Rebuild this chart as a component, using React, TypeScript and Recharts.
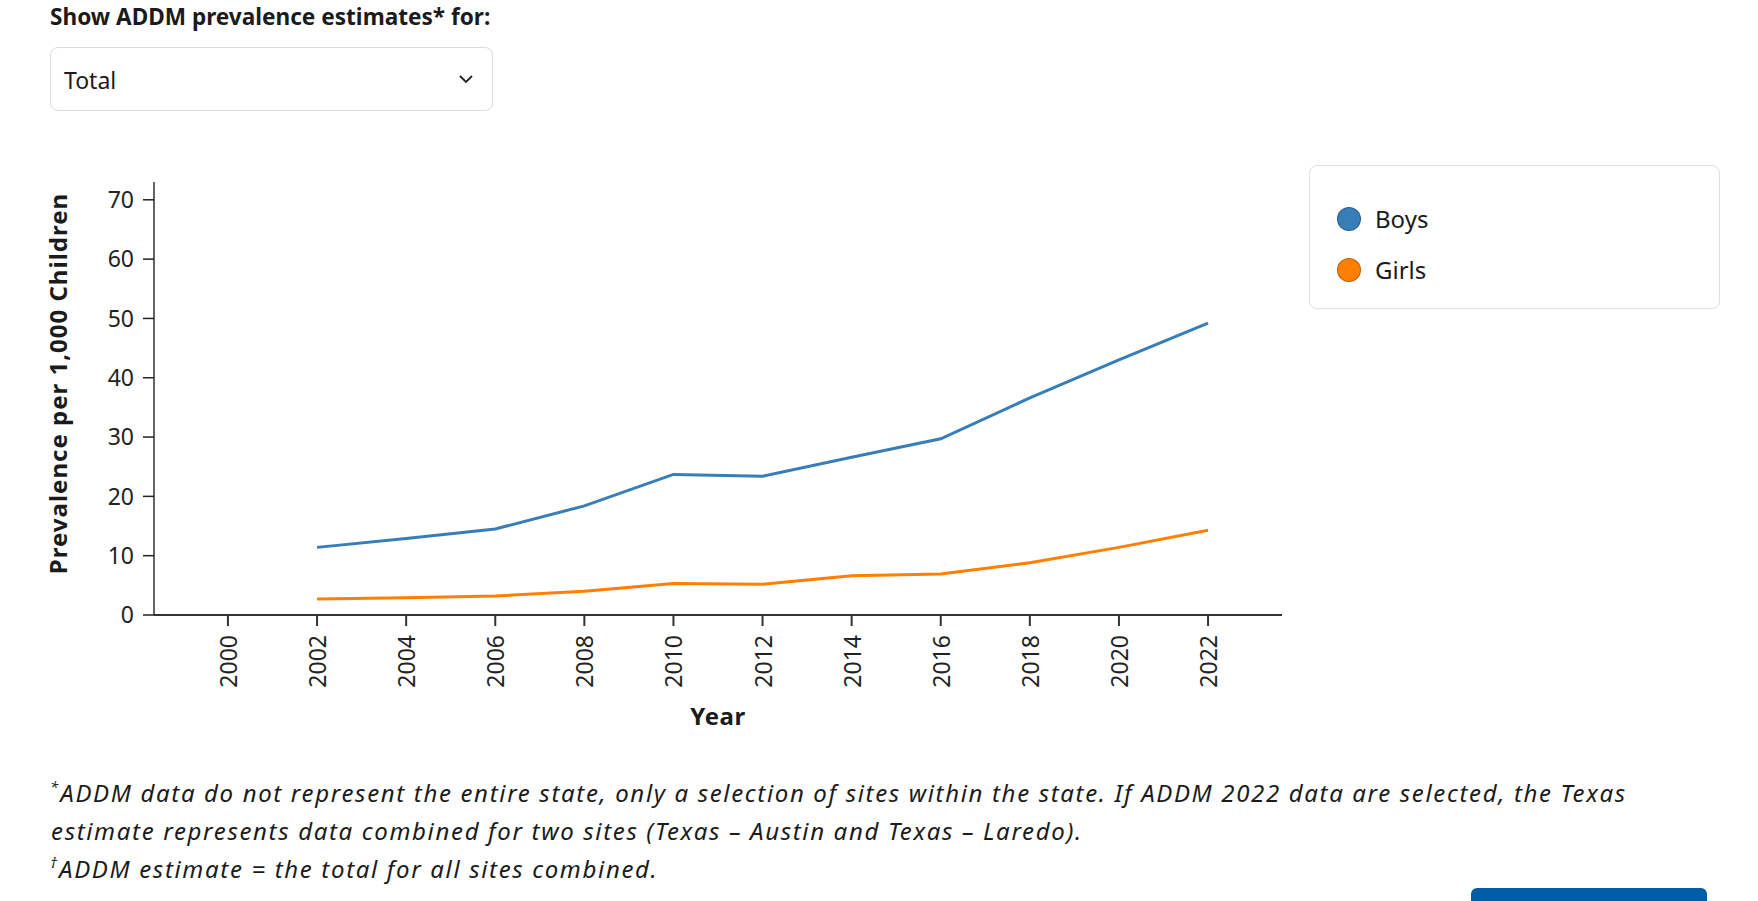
import React from "react";
import {
  LineChart,
  Line,
  XAxis,
  YAxis,
  Legend,
  Label,
} from "recharts";

const years = [2002, 2004, 2006, 2008, 2010, 2012, 2014, 2016, 2018, 2020, 2022];
const boys = [11.4, 12.9, 14.5, 18.4, 23.7, 23.4, 26.6, 29.7, 36.6, 43.0, 49.2];
const girls = [2.7, 2.9, 3.2, 4.0, 5.3, 5.2, 6.6, 6.9, 8.8, 11.4, 14.3];
const xTicks = [2000, 2002, 2004, 2006, 2008, 2010, 2012, 2014, 2016, 2018, 2020, 2022];
const yTicks = [0, 10, 20, 30, 40, 50, 60, 70];

const data = years.map((year, i) => ({ year, Boys: boys[i], Girls: girls[i] }));

const TEXT = "#1b1b1b";
const FONT = "'Noto Sans', sans-serif";

const XTick = (props: any) => {
  const { x, y, payload } = props;
  return (
    <text
      x={x}
      y={y}
      transform={`rotate(-90 ${x} ${y})`}
      textAnchor="end"
      dominantBaseline="central"
      fontSize={23}
      fontFamily={FONT}
      fill="#222"
    >
      {payload.value}
    </text>
  );
};

const YTitle = (props: any) => {
  const { viewBox } = props;
  const cx = viewBox.x + 57;
  const cy = viewBox.y + viewBox.height / 2 - 15;
  return (
    <text
      x={cx}
      y={cy}
      transform={`rotate(-90 ${cx} ${cy})`}
      textAnchor="middle"
      dominantBaseline="central"
      fontSize={24}
      fontWeight={700}
      letterSpacing={1}
      fontFamily={FONT}
      fill={TEXT}
    >
      Prevalence per 1,000 Children
    </text>
  );
};

const XTitle = (props: any) => {
  const { viewBox } = props;
  return (
    <text
      x={viewBox.x + viewBox.width / 2}
      y={viewBox.y + 110}
      textAnchor="middle"
      fontSize={24}
      fontWeight={700}
      letterSpacing={0.5}
      fontFamily={FONT}
      fill={TEXT}
    >
      Year
    </text>
  );
};

const renderLegend = (props: any) => {
  const { payload } = props;
  return (
    <div
      style={{
        position: "relative",
        width: 411,
        height: 144,
        boxSizing: "border-box",
        border: "1px solid #dfdfdf",
        borderRadius: 8,
        background: "#fff",
      }}
    >
      {(payload || []).map((entry: any, i: number) => (
        <div
          key={`legend-${i}`}
          style={{
            position: "absolute",
            left: 27,
            top: 41 + i * 51,
            height: 24,
            display: "flex",
            alignItems: "center",
          }}
        >
          <span
            style={{
              display: "inline-block",
              width: 24,
              height: 24,
              boxSizing: "border-box",
              borderRadius: "50%",
              background: entry.color,
              border: "1px solid rgba(0,0,0,0.25)",
            }}
          />
          <span
            style={{
              marginLeft: 14,
              fontSize: 24,
              fontFamily: FONT,
              color: TEXT,
              lineHeight: "24px",
            }}
          >
            {entry.value}
          </span>
        </div>
      ))}
    </div>
  );
};

const line = (fs: number, baseline: number) => ({
  position: "absolute" as const,
  top: baseline - 0.888 * fs,
  fontSize: fs,
  lineHeight: `${fs}px`,
  whiteSpace: "nowrap" as const,
});

const note = { fontStyle: "italic" as const, letterSpacing: 1.65 };

const mark = {
  position: "relative" as const,
  top: -10,
  fontSize: 15,
  lineHeight: 0,
  marginRight: 2,
  letterSpacing: 0,
};

export default function App() {
  return (
    <div
      style={{
        position: "absolute",
        left: 0,
        top: 0,
        width: 1758,
        height: 901,
        overflow: "hidden",
        background: "#fff",
        fontFamily: FONT,
        color: TEXT,
      }}
    >
      <div style={{ ...line(22.6, 26), left: 50, fontWeight: 700 }}>
        Show ADDM prevalence estimates* for:
      </div>

      <div
        style={{
          position: "absolute",
          left: 50,
          top: 47,
          width: 443,
          height: 64,
          boxSizing: "border-box",
          border: "1px solid #dcdcdc",
          borderRadius: 8,
        }}
      >
        <div style={{ ...line(23, 41), left: 13, fontWeight: 400 }}>Total</div>
        <svg
          width={16}
          height={10}
          style={{ position: "absolute", left: 407, top: 26 }}
        >
          <polyline
            points="2,2 8,8 14,2"
            fill="none"
            stroke="#222"
            strokeWidth={1.8}
          />
        </svg>
      </div>

      <div style={{ position: "absolute", left: 0, top: 0 }}>
        <LineChart
          width={1758}
          height={760}
          data={data}
          margin={{ top: 182, right: 476, bottom: 25, left: 0 }}
        >
          <XAxis
            dataKey="year"
            type="number"
            domain={[1998.34, 2023.66]}
            ticks={xTicks}
            interval={0}
            allowDataOverflow
            height={120}
            tickSize={11}
            tickMargin={9}
            tick={<XTick />}
            axisLine={{ stroke: "#333", strokeWidth: 2 }}
            tickLine={{ stroke: "#333", strokeWidth: 2 }}
          >
            <Label content={<XTitle />} />
          </XAxis>
          <YAxis
            type="number"
            domain={[0, 73]}
            ticks={yTicks}
            interval={0}
            allowDataOverflow
            width={154}
            tickSize={11}
            tickMargin={9}
            tick={{ fontSize: 23, fontFamily: FONT, fill: "#222" }}
            axisLine={{ stroke: "#111", strokeWidth: 1.3 }}
            tickLine={{ stroke: "#222", strokeWidth: 1.5 }}
          >
            <Label content={<YTitle />} />
          </YAxis>
          <Legend
            layout="vertical"
            align="center"
            verticalAlign="middle"
            content={renderLegend}
            wrapperStyle={{ left: 1309, top: 165, width: 411 }}
          />
          <Line
            type="linear"
            dataKey="Boys"
            name="Boys"
            stroke="#377eb8"
            strokeWidth={3}
            dot={false}
            isAnimationActive={false}
          />
          <Line
            type="linear"
            dataKey="Girls"
            name="Girls"
            stroke="#ff7f00"
            strokeWidth={3}
            dot={false}
            isAnimationActive={false}
          />
        </LineChart>
      </div>

      <div style={{ ...line(24, 802), left: 50, ...note }}>
        <span style={mark}>*</span>
        ADDM data do not represent the entire state, only a selection of sites within the state. If ADDM 2022 data are selected, the Texas
      </div>
      <div style={{ ...line(24, 840), left: 51, ...note }}>
        estimate represents data combined for two sites (Texas – Austin and Texas – Laredo).
      </div>
      <div style={{ ...line(24, 878), left: 50, ...note }}>
        <span style={mark}>†</span>
        ADDM estimate = the total for all sites combined.
      </div>

      <div
        style={{
          position: "absolute",
          left: 1471,
          top: 888,
          width: 236,
          height: 30,
          background: "#005ea8",
          borderRadius: 6,
        }}
      />
    </div>
  );
}
